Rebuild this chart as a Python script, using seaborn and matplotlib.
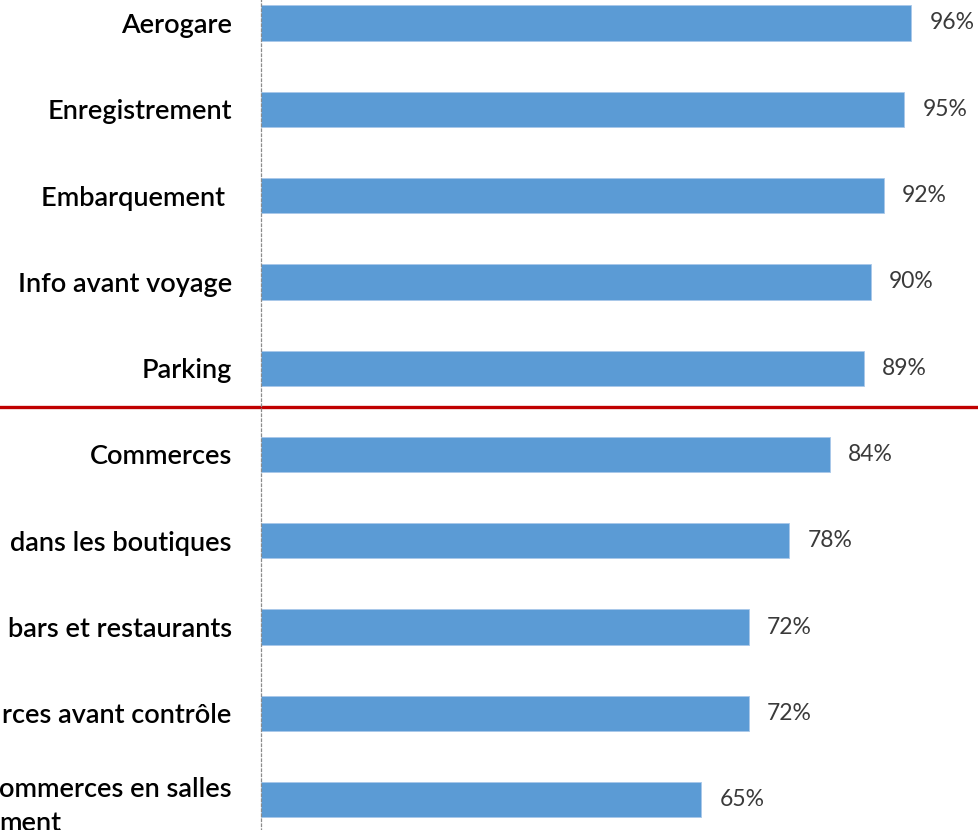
import matplotlib
matplotlib.use("Agg")
import matplotlib.pyplot as plt
import seaborn as sns
import pandas as pd

categories = [
    "Aerogare",
    "Enregistrement",
    "Embarquement ",
    "Info avant voyage",
    "Parking",
    "Commerces",
    "dans les boutiques",
    "bars et restaurants",
    "rces avant contrôle",
    "ommerces en salles\nment",
]
satisfaction = [96, 95, 92, 90, 89, 84, 78, 72, 72, 65]
value_labels = [f"{v}%" for v in satisfaction]
threshold_between = 4.45  # separator between the top-5 and the shops group

sns.set_theme(style="white")
plt.rcParams["font.family"] = ["Lato", "DejaVu Sans"]

df = pd.DataFrame({"cat": categories, "val": satisfaction})

fig = plt.figure(figsize=(9.79, 8.30), dpi=100)
ax = fig.add_axes([261 / 979, -0.0155, 718 / 979, 1.0398])

sns.barplot(data=df, x="val", y="cat", orient="h", color="#5B9BD5",
            width=0.41, saturation=1, ax=ax, edgecolor="#A9C8EA", linewidth=0.6)

ax.set_xlim(0, 106)
ax.set_ylim(9.5, -0.5)
ax.set_xlabel("")
ax.set_ylabel("")
ax.set_xticks([])

for s in ["top", "right", "bottom"]:
    ax.spines[s].set_visible(False)
ax.spines["left"].set_color("#8C8C8C")
ax.spines["left"].set_linestyle((0, (2, 2)))
ax.spines["left"].set_linewidth(0.9)

ax.tick_params(axis="y", length=0, pad=21, labelsize=19.5, labelcolor="#000000")
for t in ax.get_yticklabels():
    t.set_fontweight("semibold")
    t.set_multialignment("left")
    t.set_linespacing(1.45)

ax.bar_label(ax.containers[0], labels=value_labels, padding=13,
             fontsize=16.5, color="#3A3A3A")

ax.plot([-1, 2], [threshold_between, threshold_between],
        transform=ax.get_yaxis_transform(), color="#C00000",
        linewidth=2.4, clip_on=False)

fig.savefig("out.png", dpi=100)
